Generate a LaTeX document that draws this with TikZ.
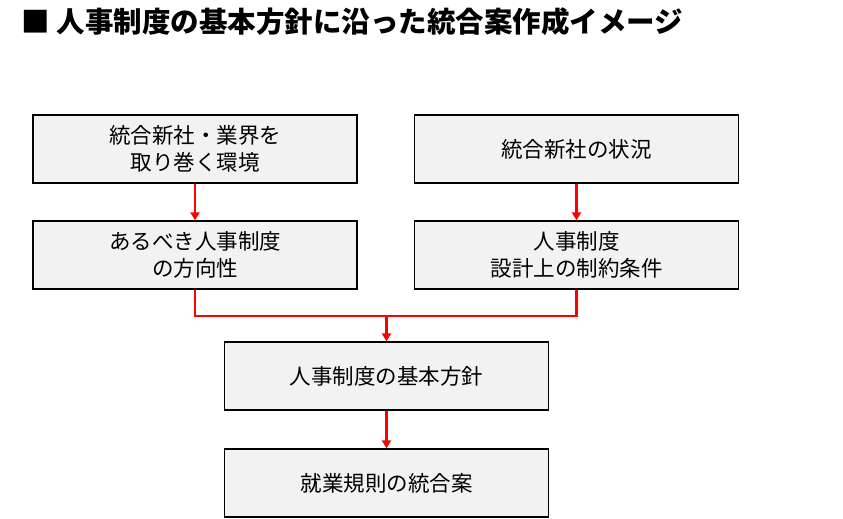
\documentclass[tikz,border=0pt]{standalone}
\usepackage{fontspec}
\setmainfont{Noto Sans CJK JP}
\usetikzlibrary{arrows.meta}
\begin{document}
\begin{tikzpicture}[x=1pt,y=-1pt,
  box/.style={draw=black,line width=1.3pt,fill=black!5,minimum width=324pt,minimum height=68pt,align=center,font=\fontsize{21.5}{27}\selectfont,inner sep=0pt},
  arr/.style={draw=red,line width=2.4pt,-{Triangle[length=8pt,width=9pt]}},
  ln/.style={draw=red,line width=2.4pt}]
\useasboundingbox (0,0) rectangle (843,519);
\node[anchor=west,font=\fontsize{28.5}{32}\selectfont\bfseries] (title) at (18,22) {■ 人事制度の基本方針に沿った統合案作成イメージ};
\node[box] (b1) at (195,149) {統合新社・業界を\\取り巻く環境};
\node[box] (b2) at (576.5,149) {統合新社の状況};
\node[box] (b3) at (195,255) {あるべき人事制度\\の方向性};
\node[box] (b4) at (576.5,255) {人事制度\\設計上の制約条件};
\node[box] (b5) at (386.5,376) {人事制度の基本方針};
\node[box] (b6) at (386.5,483) {就業規則の統合案};
\coordinate (j) at (386.5,316);
\draw[arr] (b1) -- (b3);
\draw[arr] (b2) -- (b4);
\draw[ln] (b3.south) |- (j) -| (b4.south);
\draw[arr] (j) -- (b5.north);
\draw[arr] (b5) -- (b6);
\end{tikzpicture}
\end{document}
